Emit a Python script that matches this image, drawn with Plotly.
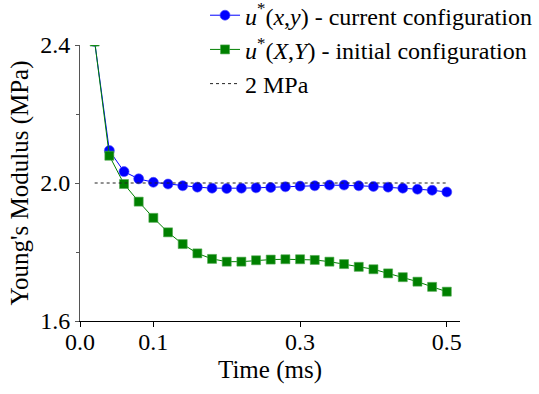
import plotly.graph_objects as go

time_ms = [0.02, 0.04, 0.06, 0.08, 0.10, 0.12, 0.14, 0.16, 0.18, 0.20, 0.22, 0.24, 0.26,
           0.28, 0.30, 0.32, 0.34, 0.36, 0.38, 0.40, 0.42, 0.44, 0.46, 0.48, 0.50]
current_cfg = [2.41, 2.094, 2.033, 2.012, 2.002, 1.997, 1.992, 1.988, 1.985, 1.984, 1.985, 1.986, 1.987,
               1.989, 1.991, 1.992, 1.994, 1.994, 1.992, 1.990, 1.988, 1.985, 1.982, 1.979, 1.974]
initial_cfg = [2.41, 2.079, 1.997, 1.946, 1.899, 1.857, 1.823, 1.796, 1.780, 1.772, 1.772, 1.776, 1.778,
               1.779, 1.779, 1.777, 1.772, 1.765, 1.757, 1.750, 1.738, 1.727, 1.714, 1.699, 1.685]
ref_x = [0.02, 0.50]
ref_y = [2.0, 2.0]

x_ticks = [0.0, 0.1, 0.3, 0.5]
x_ticklabels = ["0.0", "0.1", "0.3", "0.5"]
y_ticks = [1.6, 2.0, 2.4]
y_ticklabels = ["1.6", "2.0", "2.4"]

FONT = "Liberation Serif"

fig = go.Figure()
fig.add_trace(go.Scatter(
    x=time_ms, y=current_cfg, mode="lines+markers",
    name="<i>u</i><sup>*</sup>(<i>x</i>,<i>y</i>) - current configuration",
    line=dict(color="#0000ff", width=1),
    marker=dict(symbol="circle", size=10, color="#0000ff",
                line=dict(color="rgba(80,80,255,0.6)", width=1)),
))
fig.add_trace(go.Scatter(
    x=time_ms, y=initial_cfg, mode="lines+markers",
    name="<i>u</i><sup>*</sup>(<i>X</i>,<i>Y</i>) - initial configuration",
    line=dict(color="#008000", width=1),
    marker=dict(symbol="square", size=9, color="#008000",
                line=dict(color="rgba(80,170,80,0.6)", width=1)),
))
fig.add_trace(go.Scatter(
    x=ref_x, y=ref_y, mode="lines", name="2 MPa",
    line=dict(color="#222222", width=1, dash="dot"),
))

fig.update_layout(
    width=539, height=394,
    margin=dict(l=80, r=79, t=45, b=73, autoexpand=False),
    paper_bgcolor="white", plot_bgcolor="white",
    font=dict(family=FONT, size=24, color="black"),
    showlegend=True,
    legend=dict(x=0.329, y=1.188, xanchor="left", yanchor="top",
                font=dict(family=FONT, size=24, color="black"),
                bgcolor="rgba(0,0,0,0)", borderwidth=0),
    xaxis=dict(range=[0, 0.518], tickvals=x_ticks, ticktext=x_ticklabels,
               tickfont=dict(family=FONT, size=24), ticklabelstandoff=-6,
               showgrid=False, zeroline=False, showline=True, linecolor="black", linewidth=1,
               ticks="outside", ticklen=5, tickcolor="black",
               title=dict(text="Time (ms)", font=dict(family=FONT, size=25), standoff=6)),
    yaxis=dict(range=[1.6, 2.4], tickvals=y_ticks, ticktext=y_ticklabels,
               tickfont=dict(family=FONT, size=24),
               showgrid=False, zeroline=False, showline=True, linecolor="#555555", linewidth=1,
               ticks="outside", ticklen=4, tickcolor="#555555",
               minor=dict(tickvals=[1.8, 2.2], ticks="outside", ticklen=3, tickcolor="#555555"),
               title=dict(text="Young's Modulus (MPa)", font=dict(family=FONT, size=25), standoff=4)),
)

fig.write_html("out.html")
